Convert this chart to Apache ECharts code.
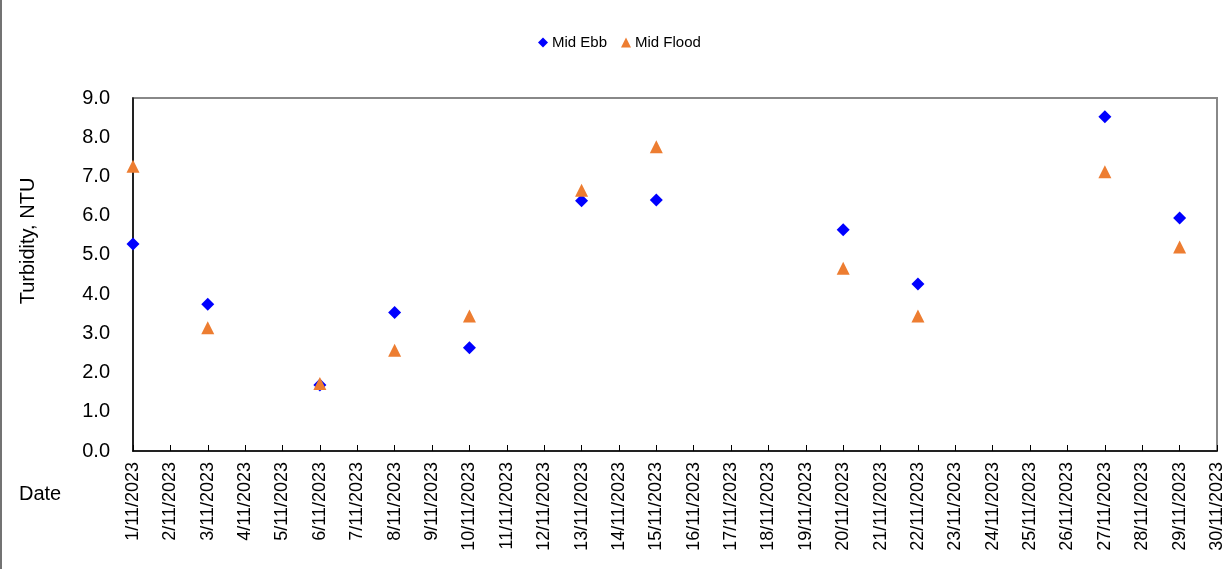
<!DOCTYPE html>
<html><head><meta charset="utf-8">
<script src="https://cdn.jsdelivr.net/npm/echarts@6/dist/echarts.min.js"></script>
<style>html,body{margin:0;padding:0;background:#fff}#c{width:1229px;height:569px}</style>
</head><body><div id="c"></div>
<script>
const dates = [];
for (let d = 1; d <= 30; d++) dates.push(d + '/11/2023');
const ebbDates = ['1/11/2023','3/11/2023','6/11/2023','8/11/2023','10/11/2023','13/11/2023','15/11/2023','20/11/2023','22/11/2023','27/11/2023','29/11/2023'];
const midEbb   = [5.28, 3.74, 1.68, 3.53, 2.63, 6.38, 6.40, 5.64, 4.26, 8.52, 5.94];
const midFlood = [7.26, 3.14, 1.72, 2.57, 3.44, 6.65, 7.76, 4.66, 3.44, 7.12, 5.20];
const yTicks = { min: 0, max: 9, interval: 1 };

const chart = echarts.init(document.getElementById('c'));
const font = 'Liberation Sans, Arial, sans-serif';
chart.setOption({
  animation: false,
  textStyle: { fontFamily: font },
  legend: {
    top: 30, left: 533, itemGap: 14, itemWidth: 10, itemHeight: 10,
    textStyle: { fontSize: 15, color: '#000', fontFamily: font, padding: [0, 0, 0, -1] },
    data: [{ name: 'Mid Ebb', icon: 'diamond' }, { name: 'Mid Flood', icon: 'triangle' }]
  },
  grid: { left: 133, right: 12, top: 98, bottom: 118, show: true, borderColor: '#888', borderWidth: 2, backgroundColor: 'transparent' },
  xAxis: {
    type: 'category', data: dates, boundaryGap: false,
    axisLine: { lineStyle: { color: '#000', width: 1.5 } },
    axisTick: { inside: true, length: 6, lineStyle: { color: '#000' } },
    axisLabel: { rotate: 90, fontSize: 18, color: '#000', interval: 0, margin: 11, fontFamily: font },
    splitLine: { show: false }
  },
  yAxis: {
    type: 'value', min: yTicks.min, max: yTicks.max, interval: yTicks.interval,
    axisLine: { show: true, lineStyle: { color: '#000', width: 1.5 } },
    axisTick: { show: false },
    axisLabel: { fontSize: 20, color: '#000', margin: 23, formatter: v => v.toFixed(1), fontFamily: font },
    splitLine: { show: false }
  },
  graphic: [
    { type: 'text', x: 28, y: 241, rotation: Math.PI / 2,
      style: { text: 'Turbidity, NTU', fontSize: 20, fill: '#000', fontFamily: font, align: 'center', verticalAlign: 'middle' } },
    { type: 'text', left: 19, top: 484, style: { text: 'Date', fontSize: 20, fill: '#000', fontFamily: font } },
    { type: 'line', shape: { x1: 1, y1: 0, x2: 1, y2: 569 }, style: { stroke: '#444', lineWidth: 1.5 } }
  ],
  series: [
    { name: 'Mid Ebb', type: 'scatter', symbol: 'diamond', symbolSize: 13, itemStyle: { color: '#0000FF', opacity: 1 },
      data: ebbDates.map((d, i) => [d, midEbb[i]]) },
    { name: 'Mid Flood', type: 'scatter', symbol: 'triangle', symbolSize: 13, itemStyle: { color: '#ED7D31', opacity: 1 },
      data: ebbDates.map((d, i) => [d, midFlood[i]]) }
  ]
});
</script></body></html>
